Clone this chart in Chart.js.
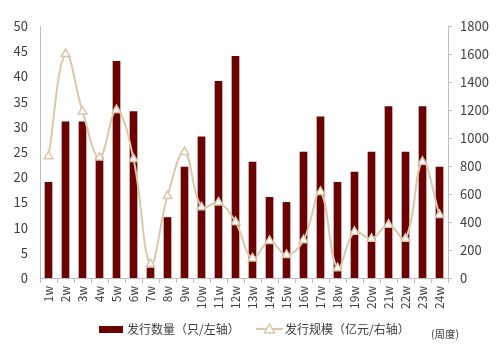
<!DOCTYPE html>
<html>
<head>
<meta charset="utf-8">
<script src="https://cdn.jsdelivr.net/npm/chart.js@4.4.1/dist/chart.umd.min.js"></script>
<style>
  body { margin: 0; background: #fff; }
  canvas { display: block; }
</style>
</head>
<body>
<canvas id="issue" width="499" height="354"></canvas>
<script>
const weeks = ['1w', '2w', '3w', '4w', '5w', '6w', '7w', '8w', '9w', '10w', '11w', '12w',
  '13w', '14w', '15w', '16w', '17w', '18w', '19w', '20w', '21w', '22w', '23w', '24w'];
const issueCount = [19, 31, 31, 24, 43, 33, 2, 12, 22, 28, 39, 44,
  23, 16, 15, 25, 32, 19, 21, 25, 34, 25, 34, 22];
const issueScale = [870, 1600, 1190, 860, 1200, 850, 100, 585, 900, 505, 540, 400,
  140, 265, 165, 270, 615, 70, 330, 280, 380, 280, 830, 450];
const leftTicks = [0, 50, 5];
const rightTicks = [0, 1800, 200];

const barColor = '#6b0202';
const lineColor = '#dcc7ad';
const tickColor = '#404040';
const axisColor = '#bfbfbf';
const cjk = '"Noto Sans CJK SC", "Noto Sans", sans-serif';

// legend is drawn by hand so the line sample can carry its triangle
const bottomLegend = {
  id: 'bottomLegend',
  afterDraw(chart) {
    const ctx = chart.ctx;
    const y = 329;
    ctx.save();
    ctx.font = '12px ' + cjk;
    ctx.fillStyle = tickColor;
    ctx.textBaseline = 'middle';

    ctx.fillStyle = barColor;
    ctx.fillRect(99, 326, 24, 7);
    ctx.fillStyle = tickColor;
    ctx.fillText(chart.data.datasets[1].label, 127, y);

    ctx.strokeStyle = lineColor;
    ctx.lineWidth = 2;
    ctx.beginPath();
    ctx.moveTo(256, y);
    ctx.lineTo(283, y);
    ctx.stroke();
    ctx.fillStyle = '#fff';
    ctx.lineWidth = 1.5;
    ctx.beginPath();
    ctx.moveTo(269.5, y - 5);
    ctx.lineTo(274.5, y + 4);
    ctx.lineTo(264.5, y + 4);
    ctx.closePath();
    ctx.fill();
    ctx.stroke();
    ctx.fillStyle = tickColor;
    ctx.fillText(chart.data.datasets[0].label, 285, y);

    ctx.font = '10.5px ' + cjk;
    ctx.fillText('(周度)', 431, 334);
    ctx.restore();
  }
};

new Chart(document.getElementById('issue'), {
  data: {
    labels: weeks,
    datasets: [
      {
        type: 'line',
        label: '发行规模（亿元/右轴）',
        data: issueScale,
        yAxisID: 'y1',
        borderColor: lineColor,
        borderWidth: 2,
        tension: 0.4,
        pointStyle: 'triangle',
        pointRadius: 5,
        pointBorderWidth: 1.5,
        pointBackgroundColor: '#fff',
        pointBorderColor: lineColor,
        order: 0,
      },
      {
        type: 'bar',
        label: '发行数量（只/左轴）',
        data: issueCount,
        yAxisID: 'y',
        backgroundColor: barColor,
        barThickness: 7,
        order: 1,
      },
    ],
  },
  options: {
    responsive: false,
    animation: false,
    layout: { padding: { top: 26, left: 0, right: 0, bottom: 0 } },
    plugins: {
      legend: { display: false },
      tooltip: { enabled: false },
    },
    scales: {
      x: {
        grid: { display: true, drawOnChartArea: false, tickLength: 5, color: axisColor },
        border: { color: axisColor },
        ticks: {
          color: tickColor,
          font: { family: cjk, size: 12 },
          minRotation: 90,
          maxRotation: 90,
          padding: 3,
          autoSkip: false,
        },
        afterFit(scale) { scale.height = 76; },
      },
      y: {
        position: 'left',
        min: leftTicks[0],
        max: leftTicks[1],
        grid: { display: false, drawTicks: false },
        border: { display: true, color: axisColor },
        ticks: {
          stepSize: leftTicks[2],
          color: tickColor,
          font: { family: cjk, size: 13 },
          padding: 12,
        },
        afterFit(scale) { scale.width = 40; },
      },
      y1: {
        position: 'right',
        min: rightTicks[0],
        max: rightTicks[1],
        grid: { display: true, drawOnChartArea: false, tickLength: 4, color: axisColor },
        border: { display: true, color: axisColor },
        ticks: {
          stepSize: rightTicks[2],
          color: tickColor,
          font: { family: cjk, size: 13 },
          padding: 8,
          callback: (v) => String(v),
        },
        afterFit(scale) { scale.width = 51; },
      },
    },
  },
  plugins: [bottomLegend],
});
</script>
</body>
</html>
